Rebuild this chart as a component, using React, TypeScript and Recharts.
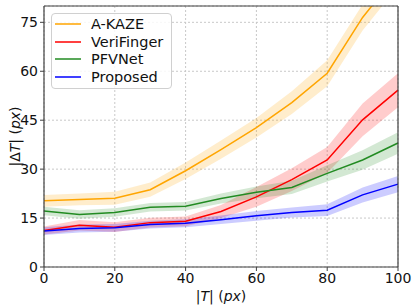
import { Area, CartesianGrid, ComposedChart, Label, Line, ReferenceLine, XAxis, YAxis } from 'recharts'

const xs = [0, 10, 20, 30, 40, 50, 60, 70, 80, 90, 100]

const akaze = [20.3, 20.7, 21.1, 23.7, 29.5, 36.0, 42.7, 50.4, 59.4, 76.5, 90]
const akazeSpread = [1.8, 1.8, 2.0, 2.2, 2.5, 2.8, 3.0, 3.5, 4.0, 4.0, 4.0]

const veri = [11.2, 12.8, 12.2, 13.6, 14.0, 17.0, 21.5, 26.8, 32.8, 45.1, 54.2]
const veriSpread = [1.2, 1.6, 1.5, 1.5, 1.5, 2.0, 3.0, 3.5, 4.0, 5.0, 5.2]

const pfv = [17.2, 16.1, 16.7, 18.3, 18.6, 21.0, 22.9, 24.4, 28.7, 32.8, 38.0]
const pfvSpread = [1.3, 1.3, 1.3, 1.3, 1.3, 1.5, 1.8, 2.0, 2.5, 3.0, 3.3]

const proposed = [11.0, 11.8, 12.0, 13.0, 13.4, 14.5, 15.7, 16.7, 17.4, 22.1, 25.4]
const proposedSpread = [1.2, 1.2, 1.2, 1.2, 1.2, 1.3, 1.5, 1.5, 1.8, 2.3, 2.5]

const xTicks = [0, 20, 40, 60, 80, 100]
const yTicks = [0, 15, 30, 45, 60, 75]

const SERIES = [
  { key: 'akaze', label: 'A-KAZE', color: '#ffa500', mean: akaze, spread: akazeSpread },
  { key: 'veri', label: 'VeriFinger', color: '#ff0000', mean: veri, spread: veriSpread },
  { key: 'pfv', label: 'PFVNet', color: '#228b22', mean: pfv, spread: pfvSpread },
  { key: 'proposed', label: 'Proposed', color: '#0000ff', mean: proposed, spread: proposedSpread },
]

const data = xs.map((x, i) => {
  const row: Record<string, number | number[]> = { x }
  SERIES.forEach((s) => {
    row[s.key] = s.mean[i]
    row[s.key + 'Band'] = [s.mean[i] - s.spread[i], s.mean[i] + s.spread[i]]
  })
  return row
})

const FONT = '"DejaVu Sans", sans-serif'
const SPINE = '#404040'

function LegendBox() {
  return (
    <div
      style={{
        position: 'absolute',
        left: 51,
        top: 13,
        border: '1px solid #d0d0d0',
        borderRadius: 4,
        background: 'rgba(255,255,255,0.85)',
        padding: '1px 8px 2px 3px',
        fontFamily: FONT,
        fontSize: 14.5,
        color: '#111',
      }}
    >
      {SERIES.map((s) => (
        <div key={s.key} style={{ display: 'flex', alignItems: 'center', height: 17.7 }}>
          <svg width={26} height={4} style={{ marginRight: 10 }}>
            <line x1={0} x2={26} y1={2} y2={2} stroke={s.color} strokeWidth={1.5} />
          </svg>
          <span>{s.label}</span>
        </div>
      ))}
    </div>
  )
}

function YLabel(props: any) {
  const { viewBox } = props
  const cx = 15
  const cy = viewBox.y + viewBox.height / 2
  return (
    <text x={cx} y={cy} transform={`rotate(-90 ${cx} ${cy})`} textAnchor="middle" dominantBaseline="central" fontFamily={FONT} fontSize={14} fill="#111">
      <tspan>|Δ</tspan>
      <tspan fontStyle="italic">T</tspan>
      <tspan>| (</tspan>
      <tspan fontStyle="italic">px</tspan>
      <tspan>)</tspan>
    </text>
  )
}

function XLabel(props: any) {
  const { viewBox } = props
  const cx = viewBox.x + viewBox.width / 2
  return (
    <text x={cx} y={296} textAnchor="middle" dominantBaseline="central" fontFamily={FONT} fontSize={14} fill="#111">
      <tspan>|</tspan>
      <tspan fontStyle="italic">T</tspan>
      <tspan>| (</tspan>
      <tspan fontStyle="italic">px</tspan>
      <tspan>)</tspan>
    </text>
  )
}

export default function App() {
  return (
    <div style={{ position: 'relative', width: 416, height: 308 }}>
      <style>{'body{margin:0}'}</style>
      <ComposedChart width={416} height={308} data={data} margin={{ top: 6, right: 18, bottom: 0, left: 0 }}>
        <CartesianGrid stroke="#c8c8c8" strokeDasharray="2 2" />
        <XAxis
          dataKey="x"
          type="number"
          domain={[0, 100]}
          ticks={xTicks}
          height={41}
          tick={{ fill: '#111', fontSize: 14, fontFamily: FONT }}
          tickSize={4}
          tickLine={{ stroke: SPINE }}
          axisLine={{ stroke: SPINE, strokeWidth: 1.2 }}
        >
          <Label content={<XLabel />} />
        </XAxis>
        <YAxis
          type="number"
          domain={[0, 80]}
          ticks={yTicks}
          allowDataOverflow
          width={44}
          tick={{ fill: '#111', fontSize: 14, fontFamily: FONT }}
          tickSize={4}
          tickLine={{ stroke: SPINE }}
          axisLine={{ stroke: SPINE, strokeWidth: 1.2 }}
        >
          <Label content={<YLabel />} />
        </YAxis>
        {SERIES.map((s) => (
          <Area
            key={s.key + 'Band'}
            dataKey={s.key + 'Band'}
            type="linear"
            stroke="none"
            fill={s.color}
            fillOpacity={0.2}
            isAnimationActive={false}
            legendType="none"
          />
        ))}
        {SERIES.map((s) => (
          <Line
            key={s.key}
            dataKey={s.key}
            type="linear"
            stroke={s.color}
            strokeWidth={1.5}
            dot={false}
            isAnimationActive={false}
          />
        ))}
        <ReferenceLine y={80} stroke={SPINE} strokeWidth={1.2} />
        <ReferenceLine x={100} stroke={SPINE} strokeWidth={1.2} />
      </ComposedChart>
      <LegendBox />
    </div>
  )
}
